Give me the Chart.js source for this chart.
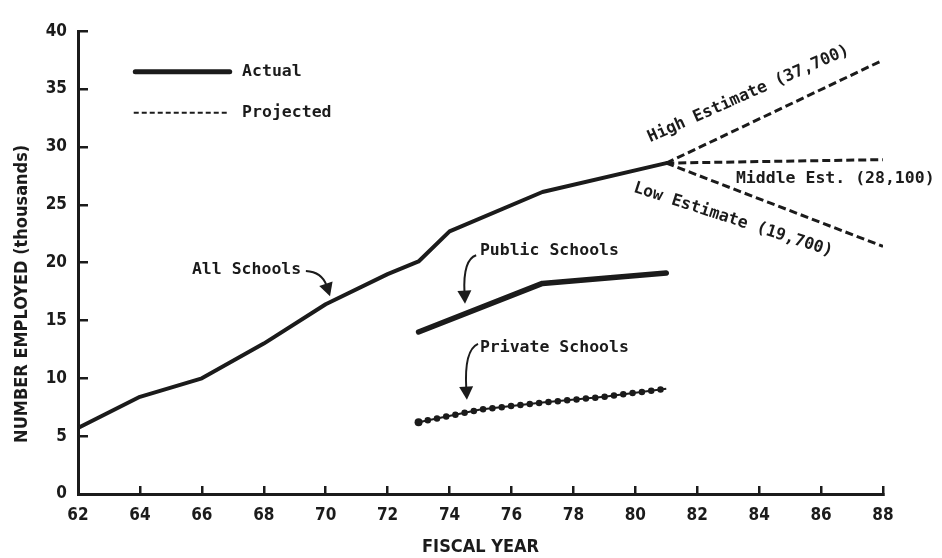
<!DOCTYPE html>
<html>
<head>
<meta charset="utf-8">
<script src="https://cdn.jsdelivr.net/npm/chart.js@4.4.1/dist/chart.umd.min.js"></script>
<style>
  html, body { margin: 0; padding: 0; background: #fff; }
  #wrap { width: 942px; height: 558px; }
</style>
</head>
<body>
<div id="wrap"><canvas id="chart" width="942" height="558"></canvas></div>
<script>
// ---- data (thousands employed, by fiscal year) ----
var allYears = [62, 64, 66, 68, 70, 72, 73, 74, 77, 81];
var allSchools = [5.7, 8.4, 10.0, 13.0, 16.4, 19.0, 20.1, 22.7, 26.1, 28.6];

var publicYears = [73, 77, 81];
var publicSchools = [14.0, 18.2, 19.1];

var privateYears = [73, 75, 77, 79, 81];
var privateSchools = [6.2, 7.3, 7.9, 8.4, 9.1];

var projYears = [81, 88];
var highEstimate = [28.6, 37.5];
var middleEstimate = [28.6, 28.9];
var lowEstimate = [28.6, 21.4];

var xTicks = [62, 64, 66, 68, 70, 72, 74, 76, 78, 80, 82, 84, 86, 88];
var yTicks = [0, 5, 10, 15, 20, 25, 30, 35, 40];

// ---- look ----
var INK = '#1b1b1b';
var MONO = '"DejaVu Sans Mono", "Liberation Mono", monospace';
var COND = '"DejaVu Sans Condensed", "DejaVu Sans", sans-serif';

function pts(xs, ys) {
    return xs.map(function(x, i) { return { x: x, y: ys[i] }; });
}

function arrow(ctx, sx, sy, cx, cy, tx, ty) {
    var dx = tx - cx, dy = ty - cy, len = Math.hypot(dx, dy);
    var ux = dx / len, uy = dy / len;
    var head = 13, half = 7;
    var bx = tx - ux * head, by = ty - uy * head;
    ctx.beginPath();
    ctx.moveTo(sx, sy);
    ctx.quadraticCurveTo(cx, cy, bx + ux * 2, by + uy * 2);
    ctx.lineWidth = 2;
    ctx.setLineDash([]);
    ctx.stroke();
    ctx.beginPath();
    ctx.moveTo(tx, ty);
    ctx.lineTo(bx - uy * half, by + ux * half);
    ctx.lineTo(bx + uy * half, by - ux * half);
    ctx.closePath();
    ctx.fill();
}

// text placed along a projection line, offset perpendicular to it
function lineLabel(ctx, p0, p1, t, off, tilt, text) {
    var ang = Math.atan2(p1.y - p0.y, p1.x - p0.x) + tilt * Math.PI / 180;
    var bx = p0.x + (p1.x - p0.x) * t, by = p0.y + (p1.y - p0.y) * t;
    var nx = -Math.sin(ang), ny = Math.cos(ang);
    ctx.save();
    ctx.translate(bx + nx * off, by + ny * off);
    ctx.rotate(ang);
    ctx.textAlign = 'center';
    ctx.fillText(text, 0, 0);
    ctx.restore();
}

var notes = {
    id: 'notes',
    afterDatasetsDraw: function(chart) {
        var ctx = chart.ctx, xs = chart.scales.x, ys = chart.scales.y;
        var px = function(v) { return xs.getPixelForValue(v); };
        var py = function(v) { return ys.getPixelForValue(v); };
        ctx.save();
        ctx.fillStyle = INK;
        ctx.strokeStyle = INK;
        ctx.lineCap = 'round';
        ctx.font = 'bold 16.5px ' + MONO;
        ctx.textBaseline = 'middle';
        ctx.textAlign = 'left';

        // legend
        ctx.lineWidth = 5;
        ctx.beginPath();
        ctx.moveTo(px(63.85), py(36.5));
        ctx.lineTo(px(66.9), py(36.5));
        ctx.stroke();
        ctx.lineWidth = 2;
        ctx.lineCap = 'butt';
        ctx.setLineDash([5, 3]);
        ctx.beginPath();
        ctx.moveTo(px(63.8), py(32.95));
        ctx.lineTo(px(66.9), py(32.95));
        ctx.stroke();
        ctx.setLineDash([]);
        ctx.fillText('Actual', px(67.3), py(36.5));
        ctx.fillText('Projected', px(67.3), py(32.95));

        // series labels with arrows
        ctx.fillText('All Schools', px(65.68), py(19.35));
        arrow(ctx, px(69.36), py(19.27), px(69.88), py(19.19), px(70.14), py(17.1));

        ctx.fillText('Public Schools', px(74.98), py(21.03));
        arrow(ctx, px(74.86), py(20.63), px(74.43), py(20.25), px(74.5), py(16.45));

        ctx.fillText('Private Schools', px(74.98), py(12.63));
        arrow(ctx, px(74.92), py(12.97), px(74.47), py(12.45), px(74.56), py(8.15));

        // projection labels
        var a = { x: px(projYears[0]), y: py(highEstimate[0]) };
        lineLabel(ctx, a, { x: px(projYears[1]), y: py(highEstimate[1]) }, 0.43, -27, 1.5, 'High Estimate (37,700)');
        lineLabel(ctx, a, { x: px(projYears[1]), y: py(lowEstimate[1]) }, 0.35, 29, -3, 'Low Estimate (19,700)');
        ctx.textAlign = 'left';
        ctx.fillText('Middle Est. (28,100)', px(83.25), py(middleEstimate[1]) + 19);

        // y axis title
        ctx.save();
        ctx.font = 'bold 18px ' + COND;
        ctx.translate(22, py(17.3));
        ctx.rotate(-Math.PI / 2);
        ctx.textAlign = 'center';
        ctx.fillText('NUMBER EMPLOYED (thousands)', 0, 0);
        ctx.restore();

        ctx.restore();
    }
};

var projStyle = { borderColor: INK, borderWidth: 3, borderDash: [8, 4], pointRadius: 0, fill: false };

new Chart(document.getElementById('chart'), {
    type: 'line',
    data: {
        datasets: [
            { label: 'All Schools', data: pts(allYears, allSchools), borderColor: INK, borderWidth: 4,
              pointRadius: 0, borderJoinStyle: 'round', borderCapStyle: 'round' },
            { label: 'Public Schools', data: pts(publicYears, publicSchools), borderColor: INK, borderWidth: 5.5,
              pointRadius: 0, borderJoinStyle: 'round', borderCapStyle: 'round' },
            { label: 'Private Schools', data: pts(privateYears, privateSchools), borderColor: INK, borderWidth: 2,
              pointRadius: [4, 0, 0, 0, 0], pointBackgroundColor: INK, pointBorderWidth: 0 },
            { label: 'Private Schools dots', data: pts(privateYears, privateSchools), borderColor: INK, borderWidth: 6.5,
              borderDash: [0, 9.4], borderCapStyle: 'round', pointRadius: 0 },
            Object.assign({ label: 'High Estimate', data: pts(projYears, highEstimate) }, projStyle),
            Object.assign({ label: 'Middle Estimate', data: pts(projYears, middleEstimate) }, projStyle),
            Object.assign({ label: 'Low Estimate', data: pts(projYears, lowEstimate) }, projStyle)
        ]
    },
    options: {
        responsive: false,
        animation: false,
        devicePixelRatio: 1,
        layout: { padding: { left: 0, right: 59, top: 20, bottom: 0 } },
        plugins: { legend: { display: false }, tooltip: { enabled: false } },
        scales: {
            x: {
                type: 'linear',
                min: 62, max: 88,
                afterBuildTicks: function(s) { s.ticks = xTicks.map(function(v) { return { value: v }; }); },
                afterFit: function(s) { s.height = 64; },
                border: { color: INK, width: 3 },
                grid: { drawOnChartArea: false, color: INK, lineWidth: 2.5, tickLength: -8 },
                ticks: { color: INK, padding: 19, maxRotation: 0, font: { family: COND, size: 17, weight: 'bold' } },
                title: { display: true, text: 'FISCAL YEAR', color: INK, padding: { top: 0, bottom: 0 },
                         font: { family: COND, size: 18, weight: 'bold' } }
            },
            y: {
                type: 'linear',
                min: 0, max: 40,
                afterBuildTicks: function(s) { s.ticks = yTicks.map(function(v) { return { value: v }; }); },
                afterFit: function(s) { s.width = 78; },
                border: { color: INK, width: 3 },
                grid: { drawOnChartArea: false, color: INK, lineWidth: 2.5, tickLength: -10 },
                ticks: { color: INK, padding: 21, font: { family: COND, size: 17, weight: 'bold' } }
            }
        }
    },
    plugins: [notes]
});
</script>
</body>
</html>
